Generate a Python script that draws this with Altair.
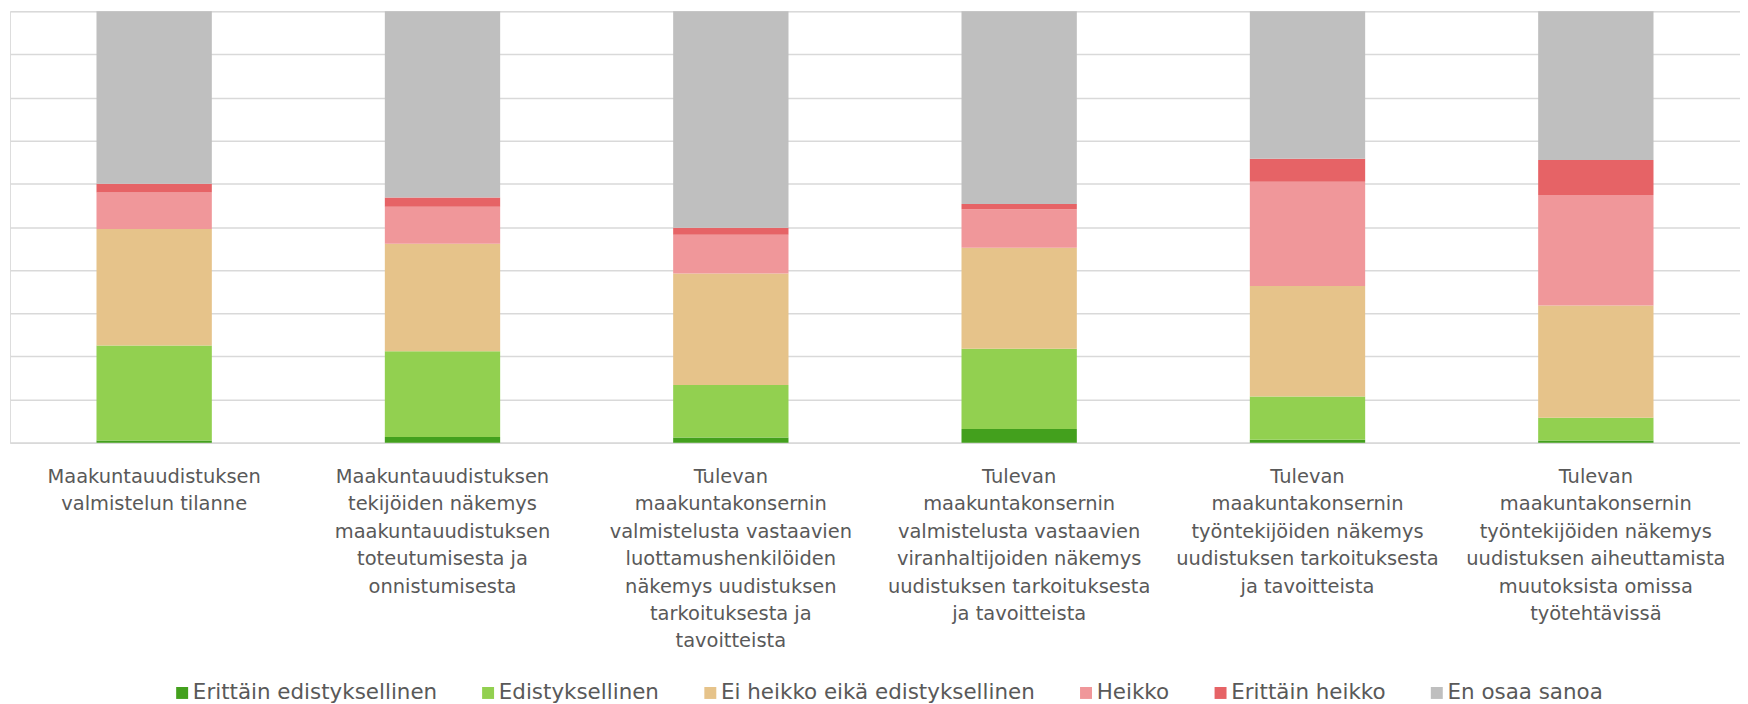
import altair as alt
import pandas as pd

categories = [
    "Maakuntauudistuksen\nvalmistelun tilanne",
    "Maakuntauudistuksen\ntekijöiden näkemys\nmaakuntauudistuksen\ntoteutumisesta ja\nonnistumisesta",
    "Tulevan\nmaakuntakonsernin\nvalmistelusta vastaavien\nluottamushenkilöiden\nnäkemys uudistuksen\ntarkoituksesta ja\ntavoitteista",
    "Tulevan\nmaakuntakonsernin\nvalmistelusta vastaavien\nviranhaltijoiden näkemys\nuudistuksen tarkoituksesta\nja tavoitteista",
    "Tulevan\nmaakuntakonsernin\ntyöntekijöiden näkemys\nuudistuksen tarkoituksesta\nja tavoitteista",
    "Tulevan\nmaakuntakonsernin\ntyöntekijöiden näkemys\nuudistuksen aiheuttamista\nmuutoksista omissa\ntyötehtävissä",
]

series = [
    "Erittäin edistyksellinen",
    "Edistyksellinen",
    "Ei heikko eikä edistyksellinen",
    "Heikko",
    "Erittäin heikko",
    "En osaa sanoa",
]

colors = ["#43A01D", "#92D050", "#E6C38A", "#F0979A", "#E66366", "#BFBFBF"]

erittain_edistyksellinen = [0.5, 1.3, 1.2, 3.2, 0.7, 0.5]
edistyksellinen = [22.0, 19.9, 12.2, 18.6, 10.0, 5.3]
ei_heikko = [27.0, 24.9, 25.8, 23.4, 25.6, 26.0]
heikko = [8.5, 8.6, 9.0, 8.9, 24.2, 25.6]
erittain_heikko = [2.0, 2.1, 1.6, 1.2, 5.3, 8.1]
en_osaa = [40.0, 43.2, 50.2, 44.7, 34.2, 34.5]

values = [erittain_edistyksellinen, edistyksellinen, ei_heikko, heikko, erittain_heikko, en_osaa]

rows = []
for si, (s, vals) in enumerate(zip(series, values)):
    for ci, (c, v) in enumerate(zip(categories, vals)):
        rows.append({"category": c, "series": s, "value": v, "order": si})
df = pd.DataFrame(rows)

FONT = "DejaVu Sans"
TXT = "#595959"

chart = (
    alt.Chart(df)
    .mark_bar()
    .encode(
        x=alt.X(
            "category:N",
            sort=categories,
            title=None,
            scale=alt.Scale(paddingInner=0.6, paddingOuter=0.3),
            axis=alt.Axis(
                labelAngle=0,
                labelExpr="split(datum.label, '\\n')",
                labelLineHeight=27.5,
                labelFontSize=19.5,
                labelFont=FONT,
                labelColor=TXT,
                labelLimit=0,
                labelPadding=25,
                ticks=False,
                domain=True,
                domainColor="#D9D9D9",
                domainWidth=1.5,
                labelBaseline="top",
            ),
        ),
        y=alt.Y(
            "value:Q",
            stack="normalize",
            title=None,
            scale=alt.Scale(domain=[0, 1], nice=False),
            axis=alt.Axis(
                values=[i / 10 for i in range(11)],
                labels=False,
                ticks=False,
                domain=False,
                grid=True,
                gridColor="#D9D9D9",
                gridWidth=1.5,
            ),
        ),
        color=alt.Color(
            "series:N",
            sort=series,
            scale=alt.Scale(domain=series, range=colors),
            legend=alt.Legend(
                title=None,
                orient="none",
                direction="horizontal",
                legendX=162,
                legendY=673,
                symbolType="square",
                symbolSize=144,
                symbolStrokeWidth=0,
                labelFont=FONT,
                labelFontSize=21.5,
                labelColor=TXT,
                labelOffset=0,
                columnPadding=40,
                labelLimit=0,
            ),
        ),
        order=alt.Order("order:Q", sort="ascending"),
    )
    .properties(
        width=1736,
        height=433,
        padding={"left": 2, "top": 2, "right": 0, "bottom": 0},
        autosize=alt.AutoSizeParams(type="pad"),
    )
    .configure_view(stroke=None)
    .configure(background="white")
)

chart.save("out.html", embed_options={"renderer": "svg", "actions": False})
